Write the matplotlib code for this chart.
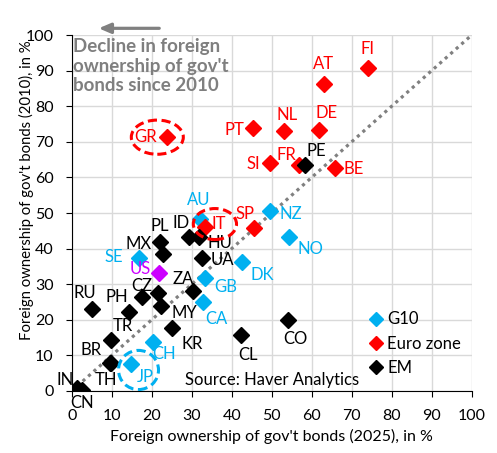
import matplotlib
matplotlib.use("Agg")
import matplotlib.pyplot as plt
from matplotlib.patches import Ellipse

plt.rcParams['font.family'] = ['Lato', 'DejaVu Sans']

# foreign ownership of gov't bonds, % (x = 2025, y = 2010)
g10_names = ['AU', 'NZ', 'NO', 'SE', 'DK', 'GB', 'CA', 'CH', 'JP']
g10_x = [32.1, 49.6, 54.2, 16.7, 42.6, 33.4, 32.9, 20.2, 14.8]
g10_y = [48.3, 50.6, 43.2, 37.3, 36.2, 31.7, 25.1, 13.8, 7.7]

euro_names = ['FI', 'AT', 'NL', 'DE', 'PT', 'GR', 'SI', 'FR', 'BE', 'IT', 'SP']
euro_x = [74.0, 63.1, 53.1, 61.7, 45.4, 23.9, 49.6, 56.8, 65.7, 33.3, 45.6]
euro_y = [90.8, 86.2, 73.0, 73.3, 74.0, 71.3, 64.0, 63.4, 62.7, 46.2, 45.9]

em_names = ['PE', 'ID', 'HU', 'PL', 'MX', 'UA', 'ZA', 'CZ', '', 'MY', 'KR',
            'RU', 'PH', 'TR', 'BR', 'TH', 'CL', 'CO', 'IN', 'CN']
em_x = [58.3, 29.4, 31.9, 22.1, 22.7, 32.6, 30.4, 17.6, 21.5, 22.3, 25.0,
        5.0, 14.4, 9.75, 9.6, 9.7, 42.3, 54.0, 1.25, 2.5]
em_y = [63.4, 43.2, 43.3, 41.8, 38.5, 37.4, 28.1, 26.3, 27.4, 23.9, 17.8,
        22.9, 22.3, 14.3, 7.9, 7.8, 15.6, 19.9, 0.9, 0.3]

us_name = 'US'
us_x = 21.7
us_y = 33.1

# label offsets in pixels from the marker
offsets = {
    'GR': (-22, 0), 'PT': (-19, -2), 'NL': (3, 16), 'SI': (-17, -1),
    'FR': (-13, 10), 'FI': (0, 19), 'AT': (-1, 20), 'DE': (8, 17),
    'PE': (11, 14), 'BE': (19, -1), 'AU': (-1, 19), 'IT': (14, 3),
    'SP': (-9, 14), 'NZ': (21, -3), 'NO': (22, -12), 'ID': (-8, 14),
    'PL': (0, 16), 'HU': (21, -6), 'MX': (-24, 10), 'SE': (-25, 1),
    'UA': (20, -2), 'DK': (20, -13), 'US': (-18, 4), 'ZA': (-10, 12),
    'GB': (20, -9), 'CZ': (0, 11), 'RU': (-7, 16), 'PH': (-13, 15),
    'MY': (23, -7), 'CA': (13, -17), 'TR': (12, 14), 'KR': (20, -16),
    'CL': (7, -20), 'CO': (8, -19), 'BR': (-19, 13), 'CH': (12, -12),
    'JP': (14, -13), 'TH': (-5, -17), 'IN': (-12, 8), 'CN': (0, -13),
}

# dashed rings round some countries: centre offset from point, width, height
rings = {'GR': (-2.5, 0.0, 13.0, 9.6), 'IT': (2.5, 0.7, 10.8, 8.7),
         'JP': (1.9, -1.8, 10.0, 11.0)}

c_g10 = '#00B0F0'
c_euro = '#FF0000'
c_em = '#000000'
c_us = '#CC00FF'
fs = 12

fig = plt.figure(figsize=(4.97, 4.53), dpi=100)
ax = fig.add_axes([0.1443, 0.1369, 0.8048, 0.7858])

ax.set_xlim(0, 100)
ax.set_ylim(0, 100)
ax.set_xticks(range(0, 101, 10))
ax.set_yticks(range(0, 101, 10))
ax.grid(True, color='#D9D9D9', lw=1)
ax.set_axisbelow(True)
for s in ['top', 'right']:
    ax.spines[s].set_visible(False)
ax.tick_params(direction='out', length=4, labelsize=11.5)
ax.tick_params(axis='x', pad=9)
ax.tick_params(axis='y', pad=9)

ax.plot([0, 100], [0, 100], color='#808080', lw=2.3, ls=(0, (1, 1.3)), zorder=2)

ms = 8
ax.plot(g10_x, g10_y, 'D', color=c_g10, ms=ms, ls='none', label='G10', zorder=3)
ax.plot(euro_x, euro_y, 'D', color=c_euro, ms=ms, ls='none', label='Euro zone', zorder=3)
ax.plot(em_x, em_y, 'D', color=c_em, ms=ms, ls='none', label='EM', zorder=3)
ax.plot([us_x], [us_y], 'D', color=c_us, ms=ms, ls='none', zorder=3)

points = {}
for names, xs, ys, col in [(g10_names, g10_x, g10_y, c_g10),
                           (euro_names, euro_x, euro_y, c_euro),
                           (em_names, em_x, em_y, c_em),
                           ([us_name], [us_x], [us_y], c_us)]:
    for n, x, y in zip(names, xs, ys):
        if not n:
            continue
        points[n] = (x, y, col)
        ax.annotate(n, (x, y), xytext=offsets[n], textcoords='offset pixels',
                    ha='center', va='center', color=col, fontsize=fs)

for n, (dx, dy, w, h) in rings.items():
    x, y, col = points[n]
    ax.add_patch(Ellipse((x + dx, y + dy), w, h, fill=False, ec=col,
                         lw=2.2, ls=(0, (3, 1.5)), zorder=4))

ax.text(0.3, 99.2, "Decline in foreign\nownership of gov't\nbonds since 2010",
        color='#7F7F7F', fontweight='bold', fontsize=13.5, va='top',
        ha='left', linespacing=1.2)
ax.text(28.4, 3.1, 'Source: Haver Analytics', fontsize=fs, va='center',
        ha='left')

ax.annotate('', xy=(0.193, 0.9375), xytext=(0.326, 0.9375),
            xycoords='figure fraction',
            arrowprops=dict(arrowstyle='-|>,head_length=0.7,head_width=0.3',
                            color='#808080', lw=2.3))

ax.legend(loc='upper left', bbox_to_anchor=(0.722, 0.247), frameon=False,
          fontsize=fs, handlelength=0.8, handletextpad=0.3,
          labelspacing=0.5, borderpad=0, markerscale=0.85)

ax.set_xlabel("Foreign ownership of gov't bonds (2025), in %", fontsize=11.5)
ax.set_ylabel("Foreign ownership of gov't bonds (2010), in %", fontsize=10.7)
ax.xaxis.set_label_coords(0.5, -0.107)
ax.yaxis.set_label_coords(-0.094, 0.565)

fig.savefig('out.png', dpi=100)
